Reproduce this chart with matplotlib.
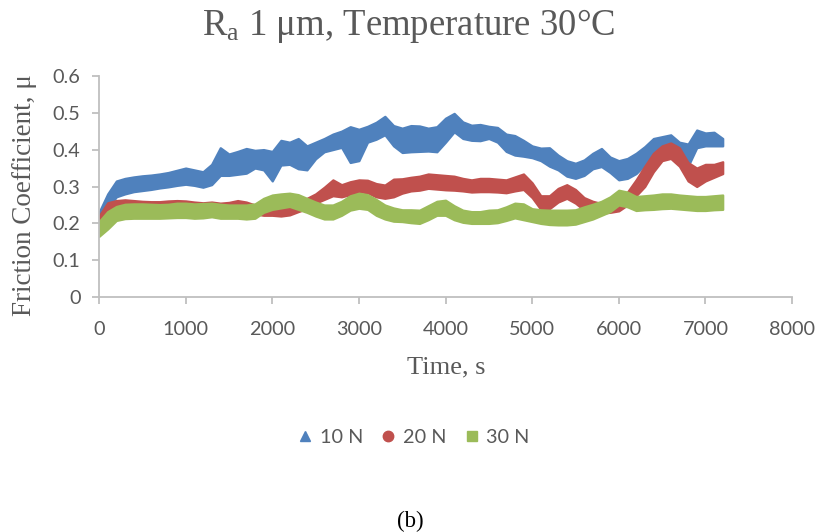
import numpy as np
import matplotlib
matplotlib.use("Agg")
import matplotlib.pyplot as plt
from matplotlib.lines import Line2D
from matplotlib.ticker import FixedLocator, FixedFormatter

plt.rcParams['font.family'] = ['Lato', 'DejaVu Sans']
plt.rcParams['mathtext.fontset'] = 'custom'
plt.rcParams['mathtext.rm'] = 'Liberation Serif'

# Sampling times (s) of the friction records
time_s = np.arange(0, 7201, 100)

# Band of the friction coefficient record (lower / upper edge) per load
mu_10N_low = [0.200, 0.240, 0.272, 0.280, 0.286, 0.289, 0.292, 0.296, 0.299, 0.303,
              0.306, 0.303, 0.298, 0.305, 0.330, 0.330, 0.333, 0.336, 0.350, 0.345,
              0.315, 0.358, 0.360, 0.348, 0.345, 0.375, 0.394, 0.400, 0.406, 0.365,
              0.370, 0.420, 0.428, 0.440, 0.410, 0.392, 0.394, 0.395, 0.396, 0.394,
              0.420, 0.448, 0.430, 0.425, 0.424, 0.430, 0.420, 0.395, 0.385, 0.382,
              0.378, 0.370, 0.355, 0.345, 0.328, 0.322, 0.330, 0.348, 0.354, 0.338,
              0.318, 0.322, 0.335, 0.358, 0.390, 0.400, 0.408, 0.390, 0.355, 0.405,
              0.410, 0.410, 0.410]
mu_10N_high = [0.230, 0.280, 0.315, 0.322, 0.326, 0.329, 0.331, 0.334, 0.338, 0.344,
               0.350, 0.345, 0.340, 0.360, 0.405, 0.388, 0.395, 0.403, 0.398, 0.400,
               0.395, 0.425, 0.420, 0.430, 0.410, 0.420, 0.430, 0.442, 0.450, 0.462,
               0.455, 0.463, 0.474, 0.490, 0.465, 0.458, 0.465, 0.464, 0.458, 0.462,
               0.485, 0.498, 0.475, 0.466, 0.468, 0.463, 0.460, 0.442, 0.438, 0.425,
               0.410, 0.404, 0.405, 0.385, 0.370, 0.363, 0.372, 0.390, 0.403, 0.380,
               0.370, 0.376, 0.390, 0.408, 0.430, 0.435, 0.440, 0.420, 0.415, 0.453,
               0.445, 0.447, 0.430]

mu_20N_low = [0.190, 0.228, 0.235, 0.236, 0.235, 0.233, 0.232, 0.232, 0.233, 0.235,
              0.234, 0.232, 0.230, 0.231, 0.229, 0.230, 0.233, 0.230, 0.226, 0.222,
              0.222, 0.220, 0.223, 0.232, 0.240, 0.255, 0.265, 0.275, 0.272, 0.278,
              0.286, 0.283, 0.272, 0.268, 0.272, 0.282, 0.288, 0.290, 0.295, 0.293,
              0.291, 0.290, 0.288, 0.285, 0.286, 0.286, 0.285, 0.283, 0.288, 0.292,
              0.270, 0.238, 0.240, 0.258, 0.268, 0.255, 0.236, 0.230, 0.228, 0.230,
              0.234, 0.250, 0.275, 0.300, 0.340, 0.370, 0.376, 0.355, 0.315, 0.300,
              0.315, 0.325, 0.335]
mu_20N_high = [0.220, 0.256, 0.262, 0.264, 0.262, 0.260, 0.259, 0.259, 0.261, 0.262,
               0.261, 0.258, 0.256, 0.258, 0.255, 0.257, 0.262, 0.258, 0.250, 0.247,
               0.248, 0.246, 0.248, 0.258, 0.268, 0.280, 0.298, 0.318, 0.305, 0.313,
               0.318, 0.317, 0.308, 0.304, 0.320, 0.321, 0.325, 0.328, 0.334, 0.332,
               0.330, 0.328, 0.322, 0.318, 0.322, 0.322, 0.320, 0.318, 0.326, 0.334,
               0.310, 0.275, 0.275, 0.295, 0.305, 0.292, 0.270, 0.260, 0.254, 0.256,
               0.264, 0.285, 0.318, 0.355, 0.390, 0.410, 0.418, 0.405, 0.365, 0.350,
               0.360, 0.360, 0.367]

mu_30N_low = [0.165, 0.185, 0.208, 0.213, 0.214, 0.214, 0.214, 0.214, 0.215, 0.216,
              0.216, 0.214, 0.215, 0.218, 0.214, 0.214, 0.214, 0.212, 0.214, 0.230,
              0.238, 0.242, 0.246, 0.238, 0.230, 0.220, 0.212, 0.212, 0.222, 0.236,
              0.241, 0.238, 0.222, 0.212, 0.206, 0.205, 0.202, 0.200, 0.210, 0.222,
              0.222, 0.210, 0.203, 0.200, 0.200, 0.200, 0.202, 0.208, 0.215, 0.210,
              0.205, 0.200, 0.197, 0.196, 0.196, 0.198, 0.205, 0.212, 0.222, 0.232,
              0.250, 0.245, 0.235, 0.237, 0.238, 0.240, 0.241, 0.239, 0.237, 0.235,
              0.235, 0.237, 0.238]
mu_30N_high = [0.205, 0.232, 0.246, 0.252, 0.253, 0.253, 0.252, 0.251, 0.252, 0.255,
               0.255, 0.253, 0.254, 0.255, 0.252, 0.250, 0.250, 0.250, 0.253, 0.268,
               0.277, 0.280, 0.282, 0.278, 0.268, 0.258, 0.250, 0.250, 0.260, 0.275,
               0.282, 0.278, 0.265, 0.250, 0.242, 0.237, 0.237, 0.236, 0.248, 0.260,
               0.263, 0.248, 0.236, 0.232, 0.232, 0.236, 0.237, 0.245, 0.255, 0.253,
               0.240, 0.237, 0.236, 0.236, 0.236, 0.237, 0.245, 0.252, 0.260, 0.272,
               0.290, 0.285, 0.273, 0.275, 0.277, 0.280, 0.280, 0.277, 0.275, 0.273,
               0.273, 0.275, 0.277]

series_labels = ['10 N', '20 N', '30 N']
x_ticks = [0, 1000, 2000, 3000, 4000, 5000, 6000, 7000, 8000]
x_tick_labels = ['0', '1000', '2000', '3000', '4000', '5000', '6000', '7000', '8000']
y_ticks = [0.0, 0.1, 0.2, 0.3, 0.4, 0.5, 0.6]
y_tick_labels = ['0', '0.1', '0.2', '0.3', '0.4', '0.5', '0.6']

colors = ['#4F81BD', '#C0504D', '#9BBB59']
markers = ['^', 'o', 's']
grey_text = '#595959'
axis_grey = '#BFBFBF'
serif = ['Liberation Serif', 'DejaVu Serif']

fig = plt.figure(figsize=(8.18, 5.32), dpi=100)
W, H = 818, 532
ax = fig.add_axes([99 / W, 1 - 297.3 / H, (792 - 99) / W, (297.3 - 75.7) / H])

bands = [(mu_10N_low, mu_10N_high), (mu_20N_low, mu_20N_high), (mu_30N_low, mu_30N_high)]
for (lo, hi), c in zip(bands, colors):
    ax.fill_between(time_s, lo, hi, color=c, lw=1.6, edgecolor=c,
                    joinstyle='round', capstyle='round', zorder=2)

ax.set_xlim(0, 8000)
ax.set_ylim(0, 0.6)
ax.xaxis.set_major_locator(FixedLocator(x_ticks))
ax.xaxis.set_major_formatter(FixedFormatter(x_tick_labels))
ax.yaxis.set_major_locator(FixedLocator(y_ticks))
ax.yaxis.set_major_formatter(FixedFormatter(y_tick_labels))

for side in ('top', 'right'):
    ax.spines[side].set_visible(False)
for side in ('left', 'bottom'):
    ax.spines[side].set_color(axis_grey)
    ax.spines[side].set_linewidth(1.3)
ax.tick_params(axis='both', direction='out', length=5.3, width=1.3, color=axis_grey,
               labelcolor=grey_text, labelsize=14.3)
ax.tick_params(axis='x', pad=12)
ax.tick_params(axis='y', pad=8)

# Titles and axis captions
fig.text(409 / W, 1 - 26 / H, r'R$\mathregular{_a}$ 1 μm, Temperature 30°C',
         family=serif, fontsize=26.5, color=grey_text, ha='center', va='center')
fig.text(446 / W, 1 - 367 / H, 'Time, s', family=serif, fontsize=19,
         color=grey_text, ha='center', va='center')
fig.text(25 / W, 1 - 195 / H, 'Friction Coefficient, μ', family=serif, fontsize=19.5,
         color=grey_text, ha='center', va='center', rotation=90)
fig.text(410 / W, 1 - 521 / H, '(b)', family=serif, fontsize=16.5,
         color='black', ha='center', va='center')

handles = [Line2D([], [], ls='none', marker=m, color=c, markersize=7.5)
           for m, c in zip(markers, colors)]
fig.legend(handles, series_labels, loc='center', bbox_to_anchor=(414 / W, 1 - 437.7 / H),
           ncol=3, frameon=False, fontsize=14.3, labelcolor=grey_text,
           handlelength=0.7, handletextpad=0.4, columnspacing=0.9)

fig.savefig('out.png', dpi=100, facecolor='white')
